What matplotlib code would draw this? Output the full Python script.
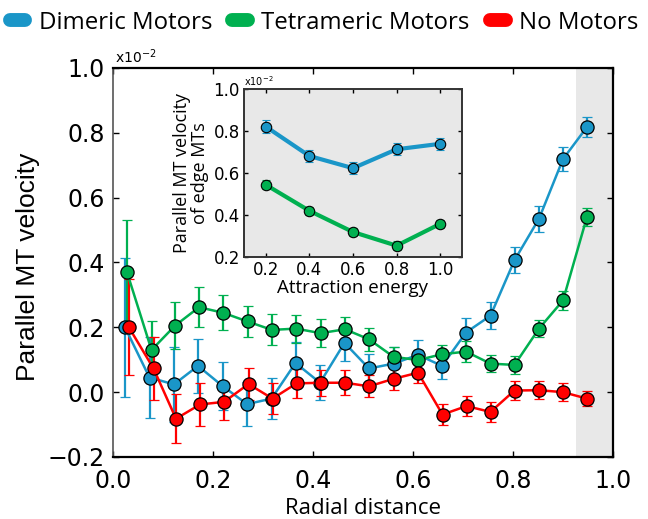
import matplotlib
matplotlib.use("Agg")
import matplotlib.pyplot as plt
from matplotlib.lines import Line2D

# ---------------- data ----------------
x_blue = [0.024, 0.073, 0.122, 0.170, 0.219, 0.268, 0.317, 0.365, 0.414, 0.463,
          0.512, 0.561, 0.610, 0.658, 0.706, 0.755, 0.803, 0.852, 0.900, 0.948]
x_green = [0.028, 0.077, 0.124, 0.172, 0.220, 0.269, 0.318, 0.366, 0.415, 0.464,
           0.512, 0.561, 0.610, 0.658, 0.706, 0.755, 0.803, 0.852, 0.900, 0.948]
x_red = [0.031, 0.081, 0.126, 0.174, 0.222, 0.271, 0.319, 0.367, 0.416, 0.464,
         0.512, 0.561, 0.610, 0.659, 0.707, 0.755, 0.803, 0.852, 0.900, 0.948]

dimeric = [0.200, 0.045, 0.024, 0.081, 0.019, -0.037, -0.020, 0.090, 0.029, 0.152,
           0.073, 0.088, 0.115, 0.081, 0.184, 0.236, 0.407, 0.535, 0.719, 0.818]
dimeric_err = [0.214, 0.126, 0.115, 0.083, 0.073, 0.068, 0.063, 0.065, 0.054, 0.055,
               0.045, 0.050, 0.047, 0.040, 0.045, 0.042, 0.040, 0.040, 0.037, 0.030]

tetrameric = [0.370, 0.130, 0.205, 0.262, 0.245, 0.218, 0.192, 0.196, 0.182, 0.194,
              0.163, 0.109, 0.099, 0.117, 0.125, 0.088, 0.084, 0.196, 0.283, 0.541]
tetrameric_err = [0.160, 0.089, 0.072, 0.061, 0.054, 0.048, 0.048, 0.043, 0.043, 0.038,
                  0.035, 0.031, 0.030, 0.029, 0.032, 0.027, 0.028, 0.027, 0.029, 0.027]

no_motors = [0.202, 0.073, -0.082, -0.038, -0.030, 0.025, -0.020, 0.027, 0.029, 0.029,
             0.018, 0.041, 0.060, -0.069, -0.043, -0.061, 0.005, 0.006, 0.000, -0.020]
no_motors_err = [0.148, 0.097, 0.076, 0.065, 0.057, 0.049, 0.047, 0.044, 0.040, 0.038,
                 0.034, 0.035, 0.033, 0.032, 0.032, 0.031, 0.028, 0.028, 0.028, 0.023]

inset_x = [0.2, 0.4, 0.6, 0.8, 1.0]
inset_dimeric = [0.821, 0.681, 0.623, 0.713, 0.739]
inset_dimeric_err = [0.032, 0.030, 0.028, 0.028, 0.028]
inset_tetrameric = [0.544, 0.420, 0.319, 0.254, 0.358]
inset_tetrameric_err = [0.022, 0.020, 0.020, 0.020, 0.020]

labels = ["Dimeric Motors", "Tetrameric Motors", "No Motors"]
colors = ["#1a96c8", "#00b050", "#ff0000"]

xticks = [0.0, 0.2, 0.4, 0.6, 0.8, 1.0]
yticks = [-0.2, 0.0, 0.2, 0.4, 0.6, 0.8, 1.0]
inset_xticks = [0.2, 0.4, 0.6, 0.8, 1.0]
inset_yticks = [0.2, 0.4, 0.6, 0.8, 1.0]

LABEL_FONT = ["Open Sans", "DejaVu Sans"]
YLABEL_FONT = ["Liberation Sans", "DejaVu Sans"]

# ---------------- figure ----------------
fig = plt.figure(figsize=(6.48, 5.19), dpi=100)
ax = fig.add_axes([0.1744, 0.1195, 0.7716, 0.7495])

ax.axvspan(0.926, 1.0, color="#e8e8e8", zorder=0, lw=0)

series = [(x_blue, dimeric, dimeric_err), (x_green, tetrameric, tetrameric_err),
          (x_red, no_motors, no_motors_err)]
for (xs, ys, es), c in zip(series, colors):
    ax.errorbar(xs, ys, yerr=es, color=c, ecolor=c, elinewidth=1.6, capsize=3.5,
                capthick=1.6, lw=1.8, marker="o", markersize=9.5,
                markerfacecolor=c, markeredgecolor="black", markeredgewidth=0.9,
                zorder=3)

ax.set_xlim(0.0, 1.0)
ax.set_ylim(-0.2, 1.0)
ax.set_xticks(xticks)
ax.set_yticks(yticks)
ax.set_xticklabels([f"{v:.1f}" for v in xticks])
ax.set_yticklabels([f"{v:.1f}".replace("-", "\u2212") for v in yticks])
ax.tick_params(direction="in", top=True, right=True, labelsize=17, length=4,
               width=1)
ax.tick_params(axis="x", pad=9)
ax.tick_params(axis="y", pad=6)
for s in ["top", "right", "bottom"]:
    ax.spines[s].set_linewidth(1.6)
    ax.spines[s].set_color("black")
ax.spines["left"].set_linewidth(1.2)
ax.spines["left"].set_color("#555555")

ax.set_xlabel("Radial distance", fontsize=16, family=LABEL_FONT, labelpad=3)
ax.set_ylabel("Parallel MT velocity", fontsize=19, family=YLABEL_FONT)
ax.yaxis.set_label_coords(-0.146, 0.49)
ax.text(0.003, 1.004, r"x10$^{-2}$", transform=ax.transAxes, fontsize=10,
        ha="left", va="bottom")

# ---------------- inset ----------------
ins = fig.add_axes([0.3765, 0.5048, 0.3365, 0.3237])
ins.set_facecolor("#e8e8e8")
for ys, es, c in [(inset_dimeric, inset_dimeric_err, colors[0]),
                  (inset_tetrameric, inset_tetrameric_err, colors[1])]:
    ins.errorbar(inset_x, ys, yerr=es, color=c, ecolor=c, elinewidth=1.4,
                 capsize=3, capthick=1.4, lw=3, marker="o", markersize=7.5,
                 markerfacecolor=c, markeredgecolor="black", markeredgewidth=0.8,
                 zorder=3)
ins.set_xlim(0.1, 1.1)
ins.set_ylim(0.2, 1.0)
ins.set_xticks(inset_xticks)
ins.set_yticks(inset_yticks)
ins.set_xticklabels([f"{v:.1f}" for v in inset_xticks])
ins.set_yticklabels([f"{v:.1f}" for v in inset_yticks])
ins.tick_params(direction="in", top=True, right=True, labelsize=12, length=3,
                width=1, pad=3)
for s in ins.spines.values():
    s.set_linewidth(1.4)
    s.set_color("#333333")
ins.set_xlabel("Attraction energy", fontsize=13.5, family=LABEL_FONT, labelpad=0)
ins.set_ylabel("Parallel MT velocity\nof edge MTs", fontsize=13, family=LABEL_FONT,
               labelpad=3, linespacing=1.05)
ins.text(0.0, 1.005, r"x10$^{-2}$", transform=ins.transAxes, fontsize=7,
         ha="left", va="bottom")

# ---------------- legend ----------------
handles = [Line2D([0], [0], color=c, lw=10, solid_capstyle="round") for c in colors]
fig.legend(handles, labels, loc="upper center", bbox_to_anchor=(0.5, 0.998),
           ncol=3, frameon=False, prop={"family": LABEL_FONT, "size": 17.3},
           handlelength=0.65, handletextpad=0.55, columnspacing=0.85,
           borderaxespad=0.2, borderpad=0.2)

fig.savefig("out.png", dpi=100)
